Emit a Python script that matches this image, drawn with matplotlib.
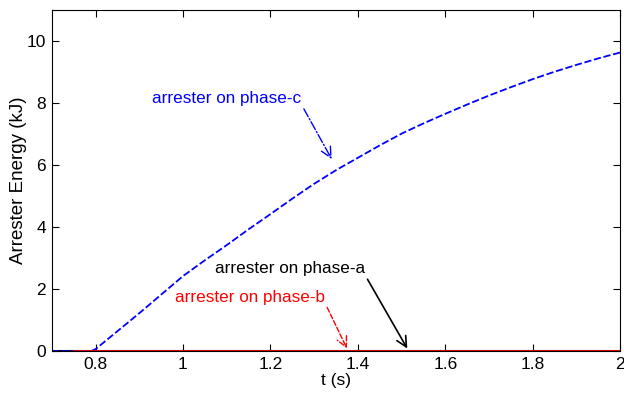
import matplotlib
matplotlib.use("Agg")
import matplotlib.pyplot as plt

plt.rcParams['font.family'] = ['Liberation Sans', 'DejaVu Sans']

# time axis (s) and arrester energy (kJ)
t = [0.70, 0.75, 0.79, 0.80, 0.85, 0.90, 0.95, 1.00, 1.05, 1.10, 1.15, 1.20,
     1.25, 1.30, 1.35, 1.40, 1.45, 1.50, 1.55, 1.60, 1.65, 1.70, 1.75,
     1.80, 1.85, 1.90, 1.95, 2.00]
e_phase_c = [0.0, 0.0, 0.0, 0.06, 0.64, 1.22, 1.82, 2.42, 2.93, 3.42, 3.93, 4.42,
             4.92, 5.40, 5.84, 6.24, 6.64, 7.02, 7.35, 7.66, 7.96, 8.25, 8.52,
             8.78, 9.02, 9.24, 9.45, 9.64]
e_phase_a = [0.0] * len(t)
e_phase_b = [0.0] * len(t)

fig = plt.figure(figsize=(6.24, 3.98), dpi=100)
ax = fig.add_axes([0.083, 0.118, 0.911, 0.856])

ax.plot(t, e_phase_a, color='black', lw=1.5)
ax.plot(t, e_phase_c, color='blue', lw=1.3, ls=(0, (4, 1.5)))
ax.plot(t[1:], e_phase_b[1:], color='red', lw=2)

ax.set_xlim(0.7, 2.0)
ax.set_ylim(0, 11)
ax.set_xticks([0.8, 1, 1.2, 1.4, 1.6, 1.8, 2])
ax.set_xticklabels(['0.8', '1', '1.2', '1.4', '1.6', '1.8', '2'])
ax.set_yticks([0, 2, 4, 6, 8, 10])
ax.tick_params(direction='in', top=True, right=True, length=5, labelsize=12.5, pad=4)
ax.set_xlabel('t (s)', fontsize=12.5, labelpad=1)
ax.set_ylabel('Arrester Energy (kJ)', fontsize=13.5, labelpad=0)

head = '->,head_length=0.6,head_width=0.3'
ax.annotate('arrester on phase-c', xy=(1.34, 6.2), xytext=(0.93, 8.15),
            color='blue', fontsize=12.3, va='center', ha='left',
            arrowprops=dict(arrowstyle=head, color='blue', ls='-.', lw=1,
                            shrinkA=0, shrinkB=0, relpos=(1.0, 0.1)))
ax.annotate('arrester on phase-a', xy=(1.513, 0.08), xytext=(1.073, 2.65),
            color='black', fontsize=12.3, va='center', ha='left',
            arrowprops=dict(arrowstyle=head, color='black', lw=1.2,
                            shrinkA=0, shrinkB=0, relpos=(1.0, 0.1)))
ax.annotate('arrester on phase-b', xy=(1.375, 0.08), xytext=(0.982, 1.74),
            color='red', fontsize=12.3, va='center', ha='left',
            arrowprops=dict(arrowstyle=head, color='red', ls='--', lw=1,
                            shrinkA=0, shrinkB=0, relpos=(1.0, 0.1)))

fig.savefig('out.png', dpi=100)
